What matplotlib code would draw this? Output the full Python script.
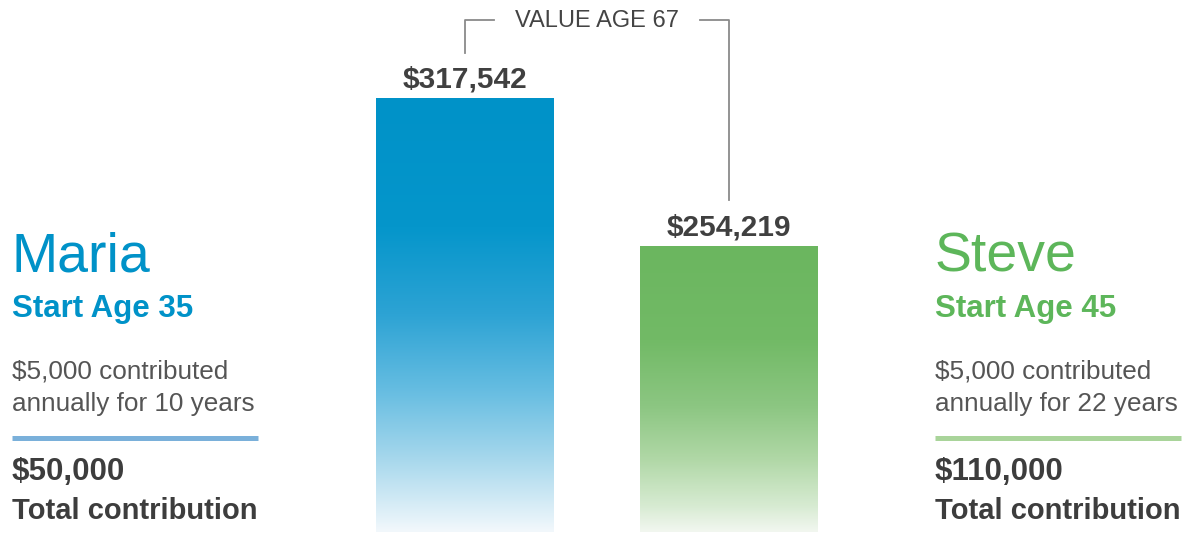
import numpy as np
import matplotlib
matplotlib.use("Agg")
import matplotlib.pyplot as plt
from matplotlib.colors import LinearSegmentedColormap
import matplotlib.transforms as mtransforms

# ---- data ----
names = ["Maria", "Steve"]
start_ages = [35, 45]
years = [10, 22]
annual = [5000, 5000]
totals = [50000, 110000]
values_age67 = [317542, 254219]
value_label = "VALUE AGE 67"

W, H = 1182, 533
plt.rcParams['font.family'] = ['Liberation Sans', 'DejaVu Sans']
fig = plt.figure(figsize=(W / 100, H / 100), dpi=100)

# axes for bars (pixel layout: bottom at y=532 px, top at y=0)
ax = fig.add_axes([0, 1 / H, 1, (H - 1) / H])
ax.set_xlim(-1.761, 2.716)
ax.set_ylim(131855, 359470)
ax.axis('off')

blue_stops = [(0.0, (0, 146, 200)), (0.3, (5, 150, 203)), (0.5, (45, 163, 212)),
              (0.67, (100, 188, 225)), (0.83, (165, 215, 236)), (1.0, (242, 248, 252))]
green_stops = [(0.0, (107, 182, 95)), (0.33, (114, 186, 102)), (0.56, (140, 198, 130)),
               (0.74, (175, 215, 165)), (0.91, (215, 235, 210)), (1.0, (242, 247, 240))]

def cmap_from(stops, name):
    return LinearSegmentedColormap.from_list(name, [(p, tuple(c / 255 for c in rgb)) for p, rgb in stops])

cmaps = [cmap_from(blue_stops, "b"), cmap_from(green_stops, "g")]

x = np.arange(len(names))
width = 0.674
bars = ax.bar(x, values_age67, width=width, color='none', edgecolor='none')
y0 = ax.get_ylim()[0]
grad = np.linspace(0, 1, 256).reshape(-1, 1)
for b, cm in zip(bars, cmaps):
    bx, by = b.get_x(), b.get_height()
    im = ax.imshow(grad, cmap=cm, aspect='auto', origin='upper',
                   extent=[bx, bx + b.get_width(), y0, by], interpolation='bicubic', zorder=1)
    im.set_clip_path(b)
ax.set_xlim(-1.761, 2.716)
ax.set_ylim(131855, 359470)

label_color = '#404040'
ax.bar_label(bars, labels=[f"${v:,.0f}" for v in values_age67], padding=3,
             fontsize=21.5, fontweight='bold', color=label_color)

# bracket "VALUE AGE 67" (x in data, y in pixels from top)
def ypx(py):
    return (H - 1 - py) / (H - 1)
trans = mtransforms.blended_transform_factory(ax.transData, ax.transAxes)
line_kw = dict(color='#8a8a8a', lw=1.3, transform=trans, clip_on=False)
ax.plot([x[0], x[0], x[0] + 0.11], [ypx(53), ypx(20), ypx(20)], **line_kw)
ax.plot([x[1] - 0.11, x[1], x[1]], [ypx(20), ypx(20), ypx(200)], **line_kw)
ax.text((x[0] + x[1]) / 2, ypx(21), value_label, transform=trans,
        ha='center', va='center', fontsize=17, color='#444444')

# side panels
def fpx(px, py):
    return px / W, 1 - py / H

name_colors = ['#0092C8', '#5DB65A']
rule_colors = ['#7AB0DA', '#A9D49A']
panel_x = [12, 935]
for i in range(2):
    px = panel_x[i]
    fig.text(*fpx(px, 272), names[i], fontsize=40, color=name_colors[i], va='baseline', ha='left')
    fig.text(*fpx(px, 317), f"Start Age {start_ages[i]}", fontsize=22.5, fontweight='bold',
             color=name_colors[i], va='baseline', ha='left')
    fig.text(*fpx(px, 379), f"${annual[i]:,} contributed", fontsize=18.8, color='#555555',
             va='baseline', ha='left')
    fig.text(*fpx(px, 411), f"annually for {years[i]} years", fontsize=18.8, color='#555555',
             va='baseline', ha='left')
    xa, ya = fpx(px, 438)
    xb, _ = fpx(px + 246, 438)
    fig.add_artist(plt.Line2D([xa, xb], [ya, ya], color=rule_colors[i], lw=3.6,
                              transform=fig.transFigure, solid_capstyle='butt'))
    fig.text(*fpx(px, 480), f"${totals[i]:,}", fontsize=22.5, fontweight='bold', color='#3d3d3d',
             va='baseline', ha='left')
    fig.text(*fpx(px, 519), "Total contribution", fontsize=21, fontweight='bold', color='#3d3d3d',
             va='baseline', ha='left')

fig.savefig("out.png", dpi=100, facecolor='white')
